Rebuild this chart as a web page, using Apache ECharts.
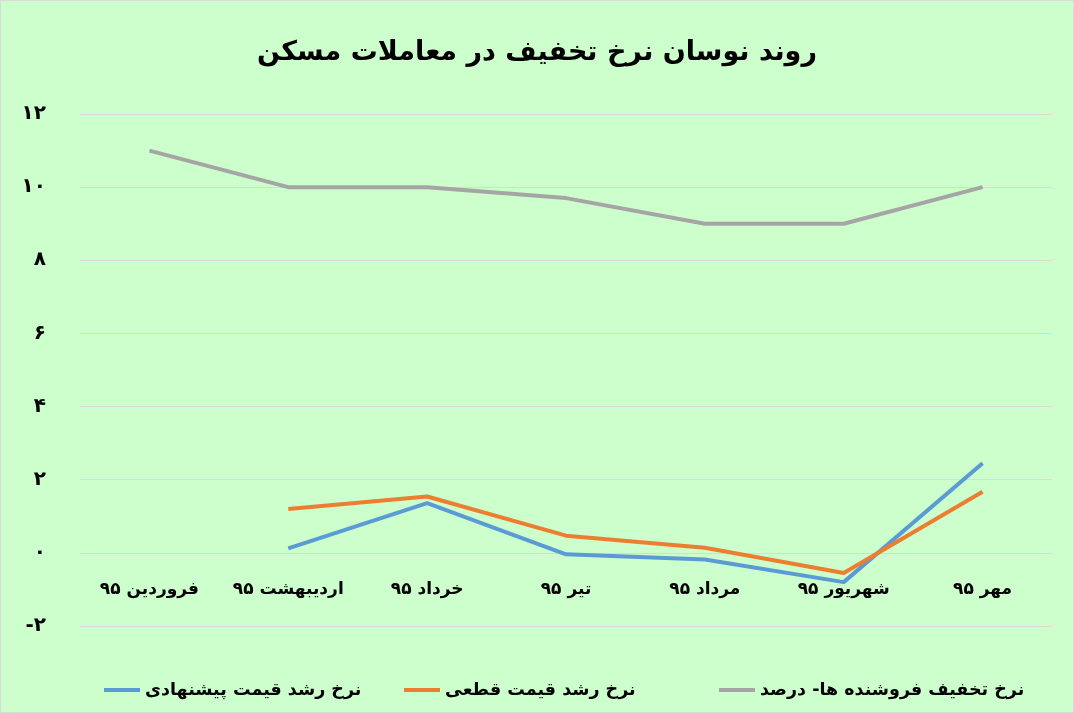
<!DOCTYPE html>
<html>
<head>
<meta charset="utf-8">
<script src="https://cdn.jsdelivr.net/npm/echarts@6/dist/echarts.min.js"></script>
<style>
    html, body { margin: 0; padding: 0; background: #ffffff; }
    #main { width: 1074px; height: 713px; box-sizing: border-box; border: 1px solid #d9d9d9; background: #ccffcc; }
</style>
</head>
<body>
<div id="main"></div>
<script>
var months = ['فروردین ۹۵', 'اردیبهشت ۹۵', 'خرداد ۹۵', 'تیر ۹۵', 'مرداد ۹۵', 'شهریور ۹۵', 'مهر ۹۵'];
var offerGrowth = [null, 0.12, 1.36, -0.04, -0.18, -0.8, 2.45];
var finalGrowth = [null, 1.2, 1.54, 0.47, 0.14, -0.55, 1.67];
var sellerDiscount = [11, 10, 10, 9.7, 9, 9, 10];
var yTicks = [-2, 0, 2, 4, 6, 8, 10, 12];
var yTickLabels = ['-۲', '۰', '۲', '۴', '۶', '۸', '۱۰', '۱۲'];

var names = ['نرخ رشد قیمت پیشنهادی', 'نرخ رشد قیمت قطعی', 'نرخ تخفیف فروشنده ها- درصد'];
var colors = ['#5b9bd5', '#ed7d31', '#a5a5a5'];
var font = 'DejaVu Sans';

var yMin = -2, yMax = 12;
var gridTop = 113, gridBottom = 86, chartH = 713;
// x labels sit under the zero line, so lift the x axis up to it
var plotH = chartH - gridTop - gridBottom;
var zeroLift = plotH * (0 - yMin) / (yMax - yMin);

var myChart = echarts.init(document.getElementById('main'));

function legendAt(i, left) {
    return {
        data: [names[i]],
        left: left,
        top: 675,
        icon: 'rect',
        itemWidth: 36,
        itemHeight: 4,
        itemGap: 6,
        textStyle: { fontFamily: font, fontWeight: 'bold', fontSize: 17.5, color: '#000' }
    };
}

var option = {
    backgroundColor: 'transparent',
    color: colors,
    title: {
        text: 'روند نوسان نرخ تخفیف در معاملات مسکن',
        left: 'center',
        top: 33,
        textStyle: { fontFamily: font, fontWeight: 'bold', fontSize: 27, color: '#000' }
    },
    legend: [legendAt(0, 98), legendAt(1, 398), legendAt(2, 713)],
    grid: { left: 79, right: 21, top: gridTop, bottom: gridBottom, containLabel: false },
    xAxis: {
        type: 'category',
        data: months,
        boundaryGap: true,
        position: 'bottom',
        offset: -zeroLift,
        axisLine: { show: false, onZero: false },
        axisTick: { show: false },
        axisLabel: {
            interval: 0,
            hideOverlap: false,
            margin: 29,
            fontFamily: font,
            fontWeight: 'bold',
            fontSize: 17,
            color: '#000'
        }
    },
    yAxis: {
        type: 'value',
        min: yMin,
        max: yMax,
        interval: 2,
        axisLine: { show: false },
        axisTick: { show: false },
        splitLine: { lineStyle: { color: '#d9d9d9', width: 1 } },
        axisLabel: {
            margin: 34,
            fontFamily: font,
            fontWeight: 'bold',
            fontSize: 20,
            color: '#000',
            formatter: function (v) {
                var k = yTicks.indexOf(v);
                return k >= 0 ? yTickLabels[k] : '';
            }
        }
    },
    series: [
        {
            name: names[0],
            type: 'line',
            data: offerGrowth,
            symbol: 'none',
            lineStyle: { width: 4 }
        },
        {
            name: names[1],
            type: 'line',
            data: finalGrowth,
            symbol: 'none',
            lineStyle: { width: 4 }
        },
        {
            name: names[2],
            type: 'line',
            data: sellerDiscount,
            symbol: 'none',
            lineStyle: { width: 4 }
        }
    ]
};

myChart.setOption(option);
</script>
</body>
</html>
